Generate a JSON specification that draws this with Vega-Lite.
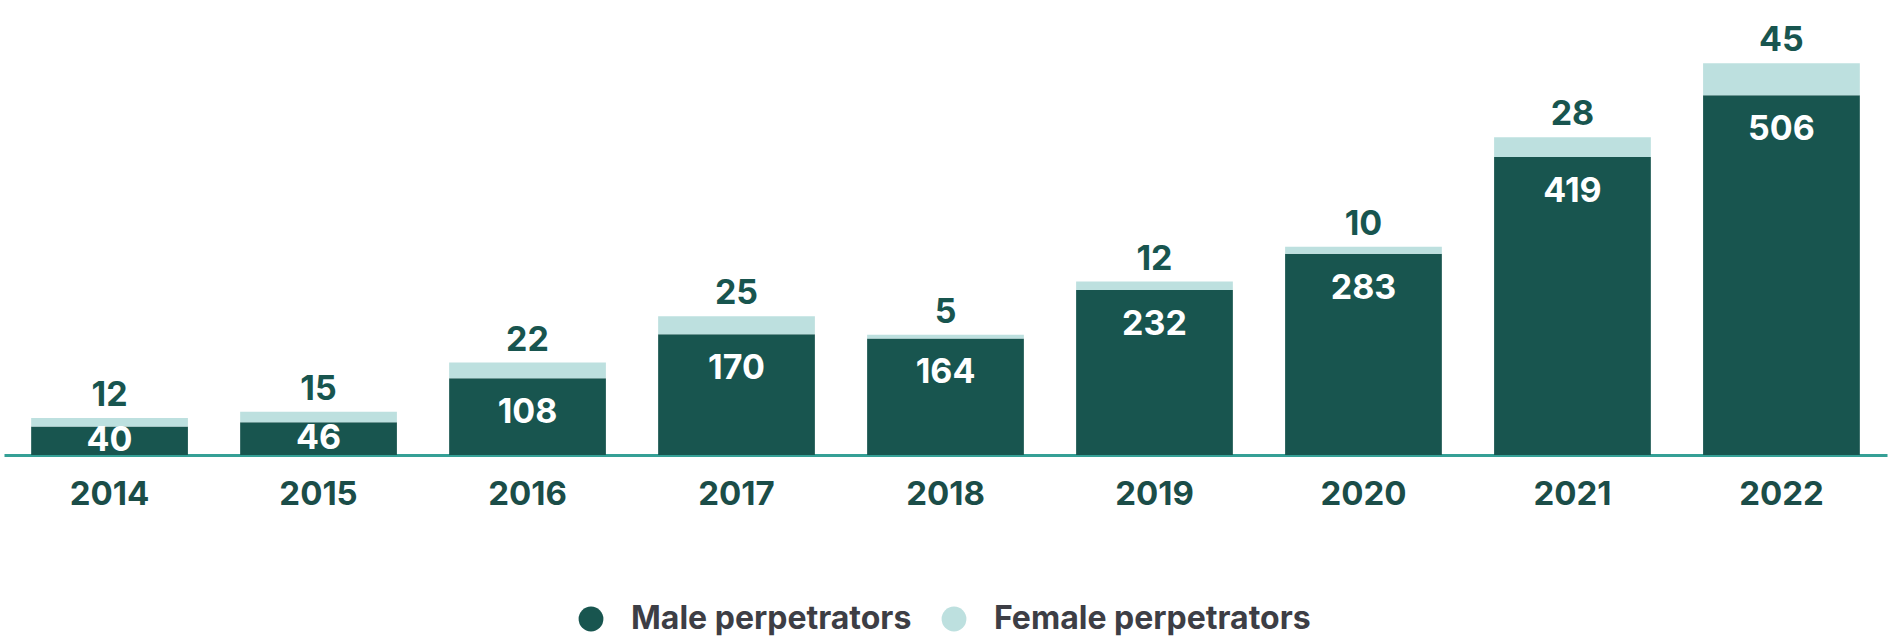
{
  "$schema": "https://vega.github.io/schema/vega-lite/v6.json",
  "width": 1883,
  "height": 455,
  "autosize": {"type": "none"},
  "padding": {"left": 4, "top": 0, "right": 1, "bottom": 181},
  "background": "white",
  "config": {
    "view": {"stroke": null},
    "font": "Inter"
  },
  "data": {
    "values": [
      {"year": "2014", "sex": "Male perpetrators", "count": 40},
      {"year": "2014", "sex": "Female perpetrators", "count": 12},
      {"year": "2015", "sex": "Male perpetrators", "count": 46},
      {"year": "2015", "sex": "Female perpetrators", "count": 15},
      {"year": "2016", "sex": "Male perpetrators", "count": 108},
      {"year": "2016", "sex": "Female perpetrators", "count": 22},
      {"year": "2017", "sex": "Male perpetrators", "count": 170},
      {"year": "2017", "sex": "Female perpetrators", "count": 25},
      {"year": "2018", "sex": "Male perpetrators", "count": 164},
      {"year": "2018", "sex": "Female perpetrators", "count": 5},
      {"year": "2019", "sex": "Male perpetrators", "count": 232},
      {"year": "2019", "sex": "Female perpetrators", "count": 12},
      {"year": "2020", "sex": "Male perpetrators", "count": 283},
      {"year": "2020", "sex": "Female perpetrators", "count": 10},
      {"year": "2021", "sex": "Male perpetrators", "count": 419},
      {"year": "2021", "sex": "Female perpetrators", "count": 28},
      {"year": "2022", "sex": "Male perpetrators", "count": 506},
      {"year": "2022", "sex": "Female perpetrators", "count": 45}
    ]
  },
  "encoding": {
    "x": {
      "field": "year",
      "type": "nominal",
      "scale": {"paddingInner": 0.25, "paddingOuter": 0.13},
      "axis": {
        "title": null,
        "labelAngle": 0,
        "ticks": false,
        "domainColor": "#35a096",
        "domainWidth": 3,
        "labelFont": "Inter",
        "labelFontSize": 33,
        "labelFontWeight": 700,
        "labelColor": "#1b4d48",
        "labelPadding": 23,
        "labelBaseline": "top"
      }
    }
  },
  "layer": [
    {
      "mark": {"type": "bar"},
      "encoding": {
        "y": {
          "field": "count",
          "type": "quantitative",
          "stack": "zero",
          "scale": {"domain": [0, 640], "nice": false},
          "axis": null
        },
        "color": {
          "field": "sex",
          "type": "nominal",
          "scale": {
            "domain": ["Male perpetrators", "Female perpetrators"],
            "range": ["#18554f", "#bde0df"]
          },
          "legend": {
            "title": null,
            "orient": "none",
            "direction": "horizontal",
            "legendX": 571,
            "legendY": 603,
            "padding": 0,
            "symbolType": "circle",
            "symbolSize": 615,
            "symbolStrokeWidth": 0,
            "labelFont": "Inter",
            "labelFontSize": 32,
            "labelFontWeight": 700,
            "labelColor": "#3d3e45",
            "labelLimit": 0,
            "labelOffset": 24,
            "columnPadding": 26
          }
        },
        "order": {"field": "sex", "sort": "descending"}
      }
    },
    {
      "transform": [
        {"filter": "datum.sex === 'Male perpetrators'"},
        {"calculate": "max(datum.count - 49, datum.count / 2)", "as": "labelY"}
      ],
      "mark": {
        "type": "text",
        "color": "white",
        "font": "Inter",
        "fontSize": 34,
        "fontWeight": 700,
        "baseline": "middle"
      },
      "encoding": {
        "y": {"field": "labelY", "type": "quantitative", "scale": {"domain": [0, 640], "nice": false}},
        "text": {"field": "count", "type": "quantitative"}
      }
    },
    {
      "transform": [
        {"joinaggregate": [{"op": "sum", "field": "count", "as": "total"}], "groupby": ["year"]},
        {"filter": "datum.sex === 'Female perpetrators'"}
      ],
      "mark": {
        "type": "text",
        "color": "#18554f",
        "font": "Inter",
        "fontSize": 34,
        "fontWeight": 700,
        "baseline": "alphabetic",
        "dy": -12
      },
      "encoding": {
        "y": {"field": "total", "type": "quantitative", "scale": {"domain": [0, 640], "nice": false}},
        "text": {"field": "count", "type": "quantitative"}
      }
    }
  ]
}
